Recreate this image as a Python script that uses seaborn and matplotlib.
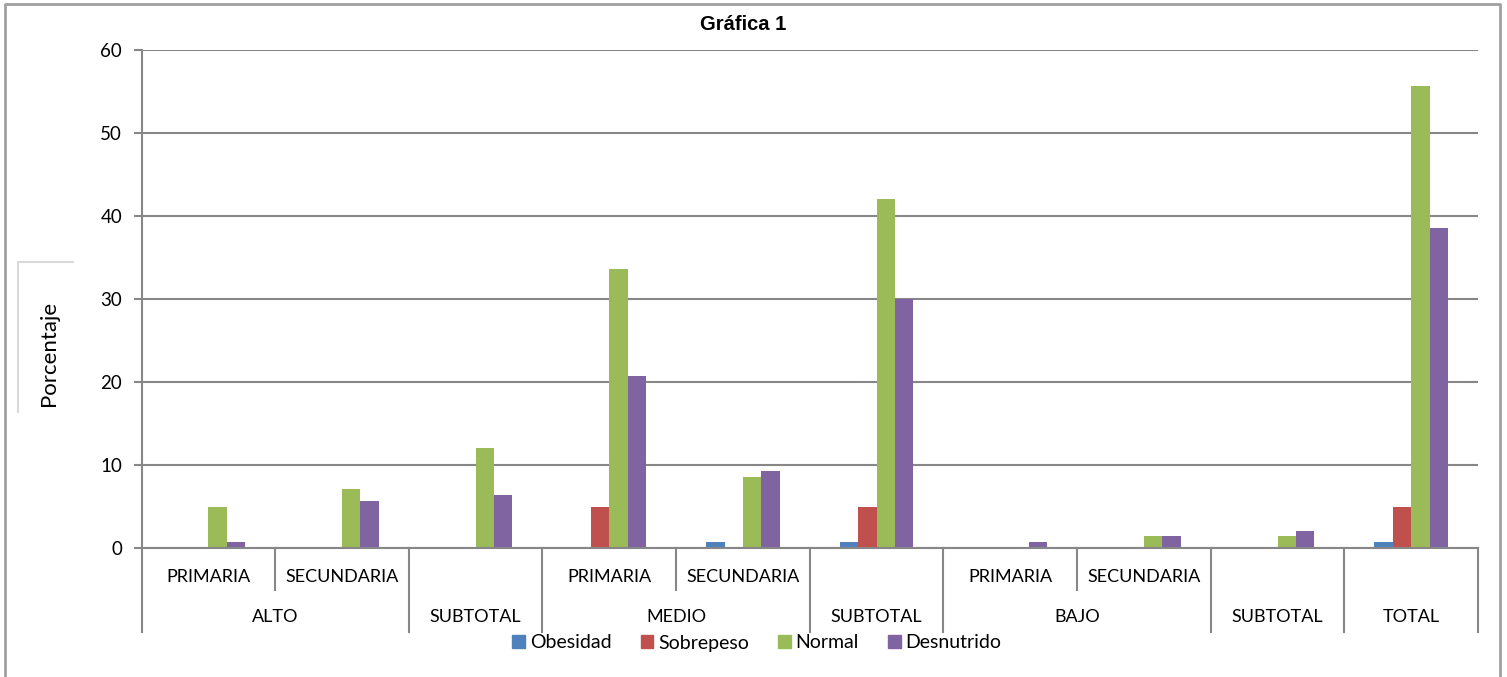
import numpy as np
import pandas as pd
import matplotlib
matplotlib.use("Agg")
import matplotlib.pyplot as plt
import seaborn as sns
from matplotlib.patches import Rectangle
from matplotlib.lines import Line2D

# category structure (two-level axis as in the original Excel chart)
level1 = ["PRIMARIA", "SECUNDARIA", "", "PRIMARIA", "SECUNDARIA", "", "PRIMARIA", "SECUNDARIA", "", ""]
level2 = ["ALTO", "SUBTOTAL", "MEDIO", "SUBTOTAL", "BAJO", "SUBTOTAL", "TOTAL"]
level2_span = [2, 1, 2, 1, 2, 1, 1]

series = ["Obesidad", "Sobrepeso", "Normal", "Desnutrido"]
obesidad = [0, 0, 0, 0, 0.7, 0.7, 0, 0, 0, 0.7]
sobrepeso = [0, 0, 0, 5.0, 0, 5.0, 0, 0, 0, 5.0]
normal = [5.0, 7.1, 12.1, 33.6, 8.6, 42.1, 0, 1.4, 1.4, 55.7]
desnutrido = [0.7, 5.7, 6.4, 20.7, 9.3, 30.0, 0.7, 1.4, 2.1, 38.6]
colors = ["#4F81BD", "#C0504D", "#9BBB59", "#8064A2"]

cats = [f"c{i}" for i in range(len(level1))]
df = pd.DataFrame({"cat": cats * 4,
                   "serie": np.repeat(series, len(cats)),
                   "valor": obesidad + sobrepeso + normal + desnutrido})

W, H = 1507, 677
fig = plt.figure(figsize=(W / 100, H / 100), dpi=100)
ax = fig.add_axes([141.5 / W, (H - 548) / H, (1478 - 141.5) / W, (548 - 50) / H])

sns.barplot(data=df, x="cat", y="valor", hue="serie", order=cats, hue_order=series,
            palette=colors, width=0.55, linewidth=0, saturation=1, ax=ax, legend=False)

grid = "#878787"
ax.set_ylim(0, 60)
ax.set_xlim(-0.5, len(cats) - 0.5)
ax.set_yticks(range(0, 61, 10))
ax.yaxis.grid(True, color=grid, linewidth=1.5)
ax.set_axisbelow(True)
for s in ["top", "right"]:
    ax.spines[s].set_visible(False)
ax.spines["left"].set_color(grid)
ax.spines["bottom"].set_color(grid)
ax.spines["left"].set_linewidth(1.5)
ax.spines["bottom"].set_linewidth(1.5)
ax.tick_params(axis="y", length=6, width=1.5, color=grid, labelsize=13.5, pad=8)
ax.set_xticks([])
ax.set_xlabel("")
ax.set_ylabel("")
for t in ax.get_yticklabels():
    t.set_family("Lato")

# multi-level category labels
tr = ax.get_xaxis_transform()
px = 1 / (548 - 50)  # one pixel in axes-fraction units (vertical)
y_row1 = -(577 - 548) * px
y_row2 = -(617 - 548) * px
y_short = -(590 - 548) * px
y_long = -(632 - 548) * px
for i, lab in enumerate(level1):
    if lab:
        ax.text(i, y_row1, lab, transform=tr, ha="center", va="center",
                fontsize=13, family="Lato", color="black")
start = 0
bounds = [0]
for lab, span in zip(level2, level2_span):
    center = start + (span - 1) / 2
    ax.text(center, y_row2, lab, transform=tr, ha="center", va="center",
            fontsize=13, family="Lato", color="black")
    start += span
    bounds.append(start)
for b in range(len(cats) + 1):
    yb = y_long if b in bounds else y_short
    ax.add_line(Line2D([b - 0.5, b - 0.5], [0, yb], transform=tr, color=grid,
                       linewidth=1.5, clip_on=False))

# title
fig.text(743 / W, 1 - 24 / H, "Gráfica 1", ha="center", va="center",
         fontsize=14.5, fontweight="bold", family="Liberation Sans")

# y-axis title in its light box
fig.add_artist(Line2D([18 / W, 73 / W], [1 - 262 / H, 1 - 262 / H], color="#D9D9D9", linewidth=1.5))
fig.add_artist(Line2D([18 / W, 18 / W], [1 - 262 / H, 1 - 412 / H], color="#D9D9D9", linewidth=1.5))
fig.text(49 / W, 1 - 353 / H, "Porcentaje", rotation=90, ha="center", va="center",
         fontsize=16, family="Lato")

# outer frame (bottom edge is outside the picture)
fig.add_artist(Line2D([5 / W, 5 / W, 1500 / W, 1500 / W],
                      [0, 1 - 4 / H, 1 - 4 / H, 0], color="#A0A0A0", linewidth=2))

# legend
handles = [Rectangle((0, 0), 1, 1, color=c) for c in colors]
fig.legend(handles, series, loc="center", bbox_to_anchor=(757 / W, 1 - 643 / H), ncol=4,
           frameon=False, prop={"family": "Lato", "size": 14}, handlelength=0.65,
           handleheight=0.65, handletextpad=0.25, columnspacing=1.5, borderpad=0)

fig.savefig("out.png", dpi=100)
